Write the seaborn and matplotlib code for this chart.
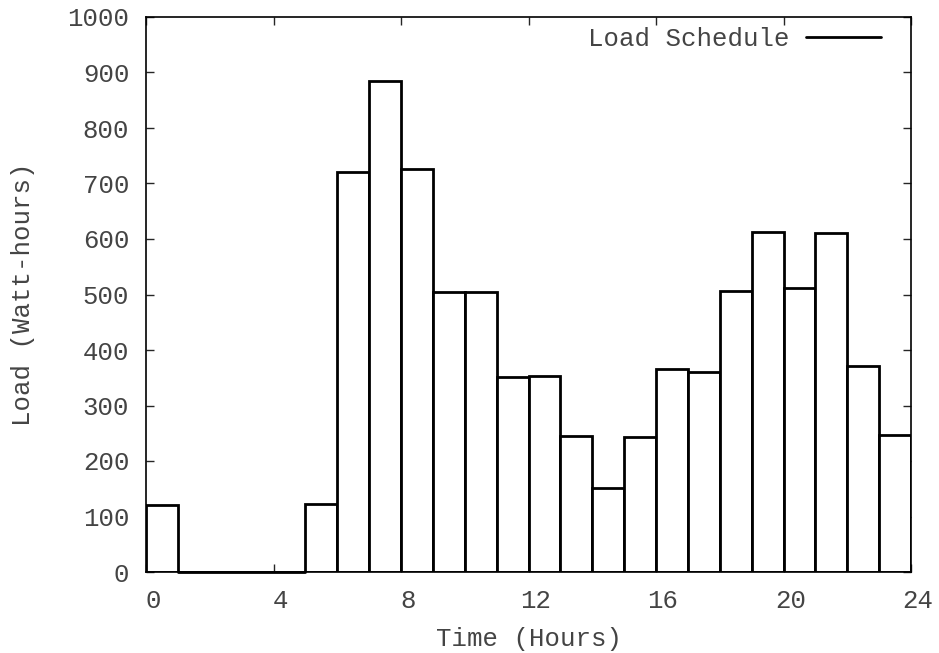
import matplotlib
matplotlib.use('Agg')
import matplotlib.pyplot as plt
import matplotlib.transforms as mtransforms
import seaborn as sns
import numpy as np
import pandas as pd

# hourly load schedule (Watt-hours), hours 0..23
hours = list(range(24))
load = [120, 0, 0, 0, 0, 122, 720, 885, 726, 505, 505, 352,
        353, 245, 152, 244, 366, 360, 506, 612, 511, 610, 372, 247]
x_ticks = [0, 4, 8, 12, 16, 20, 24]
y_ticks = [0, 100, 200, 300, 400, 500, 600, 700, 800, 900, 1000]

df = pd.DataFrame({'hour': np.array(hours) + 0.5, 'load': load})

sns.set_style('ticks')
plt.rcParams['font.family'] = ['Liberation Mono', 'DejaVu Sans Mono']
txt = '#444444'

fig = plt.figure(figsize=(9.39, 6.53), dpi=100)
ax = fig.add_axes([146/939, 1 - 572/653, (911 - 146)/939, (572 - 17)/653])

sns.barplot(data=df, x='hour', y='load', native_scale=True, width=1,
            color='white', edgecolor='black', linewidth=2, errorbar=None,
            ax=ax)

ax.set_xlim(0, 24)
ax.set_ylim(0, 1000)
ax.set_xticks(x_ticks)
ax.set_yticks(y_ticks)
ax.set_xticklabels([str(t) for t in x_ticks])
ax.set_yticklabels([str(t) for t in y_ticks])
ax.tick_params(direction='in', top=True, right=True, length=6, width=1,
               labelsize=18.5, labelcolor=txt, pad=12)
# gnuplot draws the x labels a little right of their ticks
shift = mtransforms.ScaledTranslation(5/72, 0, fig.dpi_scale_trans)
for lab in ax.get_xticklabels():
    lab.set_transform(lab.get_transform() + shift)
for s in ax.spines.values():
    s.set_visible(True)
    s.set_linewidth(1.2)
    s.set_color('black')
ax.axhline(0, xmin=1/24, xmax=5/24, color='black', linewidth=2, clip_on=False)

ax.set_xlabel('Time (Hours)', fontsize=18.5, color=txt, labelpad=10)
ax.set_ylabel('Load (Watt-hours)', fontsize=18.5, color=txt, labelpad=23)

handle = plt.Line2D([], [], color='black', linewidth=2)
fig.legend([handle], ['Load Schedule'], loc='center right',
           bbox_to_anchor=(881/939, 1 - 39/653), frameon=False,
           markerfirst=False, borderpad=0, borderaxespad=0,
           handlelength=2.9, handletextpad=0.65,
           prop={'size': 18.5}, labelcolor=txt)

fig.savefig('out.png', dpi=100)
